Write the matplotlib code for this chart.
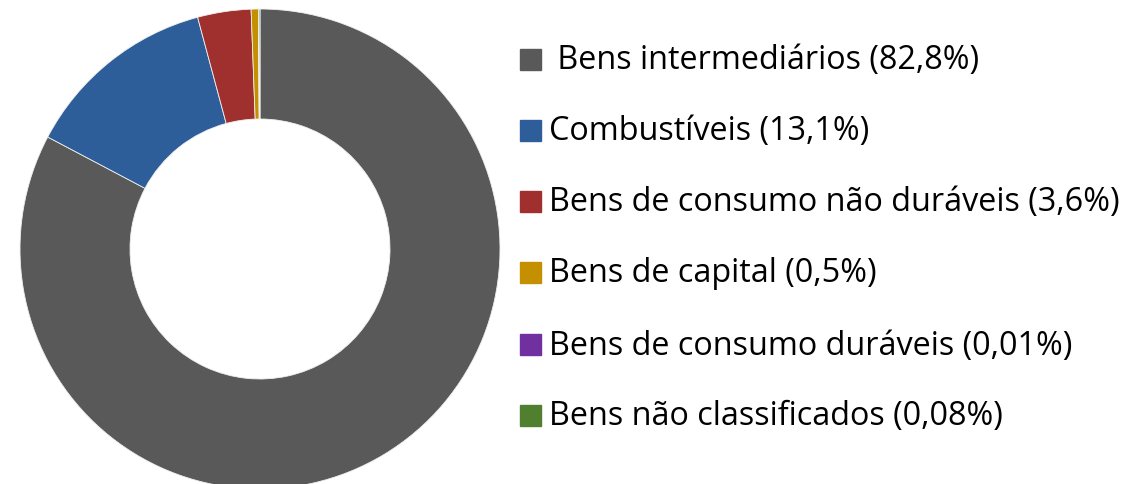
import matplotlib
matplotlib.use("Agg")
import matplotlib.pyplot as plt
from matplotlib.patches import Rectangle

labels = ["Bens intermediários", "Combustíveis", "Bens de consumo não duráveis",
          "Bens de capital", "Bens de consumo duráveis", "Bens não classificados"]
values = [82.8, 13.1, 3.6, 0.5, 0.01, 0.08]
legend_texts = [" Bens intermediários (82,8%)", "Combustíveis (13,1%)",
                "Bens de consumo não duráveis (3,6%)", "Bens de capital (0,5%)",
                "Bens de consumo duráveis (0,01%)", "Bens não classificados (0,08%)"]
colors = ["#595959", "#2E5E9A", "#A0302E", "#C49000", "#7030A0", "#4F7F2F"]

W, H = 1129, 485
fig = plt.figure(figsize=(W / 100, H / 100), dpi=100)
plt.rcParams['font.family'] = ['Open Sans', 'DejaVu Sans']

ax = fig.add_axes([20 / W, -5 / H, 480 / W, 480 / H])
ax.pie(values, colors=colors, startangle=90, counterclock=False, radius=1,
       wedgeprops=dict(width=110 / 240, edgecolor="#f0f0f0", linewidth=0.6))
ax.set_xlim(-1, 1)
ax.set_ylim(-1, 1)
ax.set_aspect("equal")
ax.axis("off")

rows_y = [60, 131, 202, 273, 345, 416]
for y, txt, c in zip(rows_y, legend_texts, colors):
    fig.patches.append(Rectangle(((520) / W, (H - y - 10.5) / H), 21 / W, 21 / H,
                                 transform=fig.transFigure, color=c))
    fig.text(549 / W, (H - y - 9.5) / H, txt, fontsize=23.3, va="baseline", ha="left", color="black")

fig.savefig("out.png", dpi=100)
